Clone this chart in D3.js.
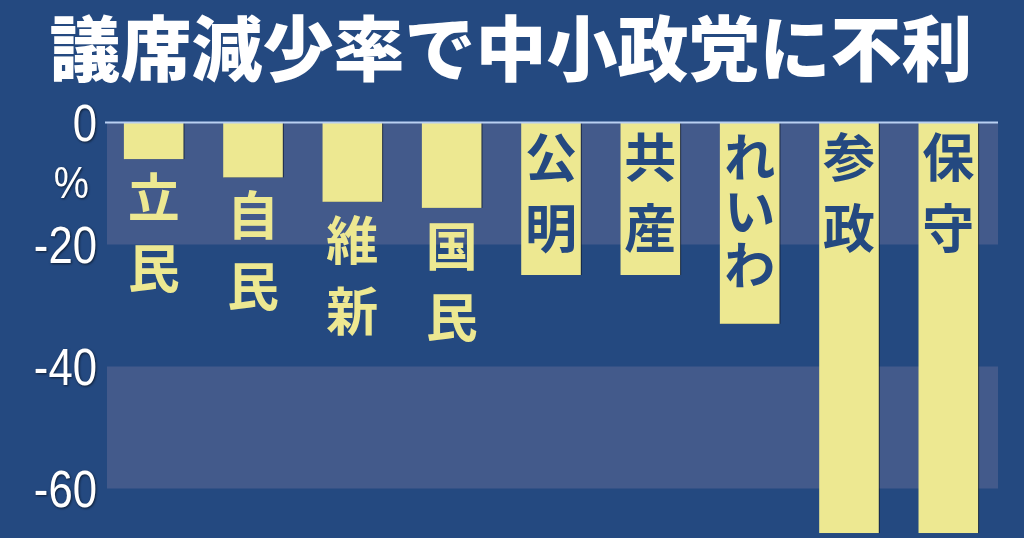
<!DOCTYPE html>
<html><head><meta charset="utf-8">
<script src="https://cdn.jsdelivr.net/npm/d3@7"></script>
<style>
html,body{margin:0;padding:0;background:#244980;overflow:hidden;}
svg{display:block;}
</style></head>
<body>
<svg id="chart" width="1024" height="538"></svg>
<script>
const title = "議席減少率で中小政党に不利";
const parties = ["立民","自民","維新","国民","公明","共産","れいわ","参政","保守"];
const changeRate = [-6, -9, -13, -14, -25, -25, -33, -67.3, -67.3];
const yTicks = [0, -20, -40, -60];
const unitLabel = "%";

const W = 1024, H = 538;
const svg = d3.select("#chart");
const navy = "#244980", band = "#435a8b", yellow = "#ede891";

svg.append("rect").attr("width", W).attr("height", H).attr("fill", navy);

const y = d3.scaleLinear().domain([0, -70]).range([122.5, 122.5 + 70 * 6.1]);
const x = d3.scaleBand().domain(parties).range([107, 995]).paddingInner(0.4).paddingOuter(0.17);

// alternating bands
const bandX0 = 107, bandX1 = 998;
[[0, -20], [-40, -60]].forEach(([a, b]) => {
  svg.append("rect").attr("x", bandX0).attr("width", bandX1 - bandX0)
    .attr("y", y(a)).attr("height", y(b) - y(a)).attr("fill", band);
});

// title
svg.append("text").attr("x", 511).attr("y", 44)
  .attr("text-anchor", "middle").attr("dominant-baseline", "central")
  .attr("font-family", "'Noto Sans CJK JP', sans-serif").attr("font-weight", 900)
  .attr("font-size", 71).attr("fill", "#fff")
  .text(title);

// y axis labels (condensed)
const yAxis = d3.axisLeft(y).tickValues(yTicks).tickSize(0).tickPadding(0)
  .tickFormat(d => d === 0 ? "0" : "-" + Math.abs(d));
const gy = svg.append("g").attr("transform", "translate(97,0) scale(0.84,1)").call(yAxis);
gy.select(".domain").remove();
gy.selectAll("text")
  .attr("font-family", "'Liberation Sans', Arial, sans-serif")
  .attr("font-size", 52).attr("fill", "#fff").attr("dy", "0.35em")
  .style("filter", "drop-shadow(1px 1px 1px rgba(0,0,0,0.6))");
svg.append("text").attr("transform", "translate(89,183) scale(0.9,1)").attr("text-anchor", "end").attr("dy", "0.35em")
  .attr("font-family", "'Liberation Sans', Arial, sans-serif").attr("font-size", 44).attr("fill", "#fff")
  .style("filter", "drop-shadow(1px 1px 1px rgba(0,0,0,0.6))")
  .text(unitLabel);

// bars
const data = parties.map((p, i) => ({ party: p, value: changeRate[i] }));
svg.selectAll("rect.bar").data(data).enter().append("rect").attr("class", "bar")
  .attr("x", d => x(d.party)).attr("width", x.bandwidth())
  .attr("y", y(0)).attr("height", d => y(d.value) - y(0))
  .attr("fill", yellow)
  .style("filter", "drop-shadow(1px 0px 0px rgba(10,20,40,0.7))");

// zero line
svg.append("line").attr("x1", 105).attr("x2", 998).attr("y1", y(0)).attr("y2", y(0))
  .attr("stroke", "#b9d0f2").attr("stroke-width", 2);

// vertical labels
const fs = 52;
svg.selectAll("text.lab").data(data).enter().append("text").attr("class", "lab")
  .attr("x", d => x(d.party) + x.bandwidth() / 2)
  .attr("y", d => (d.value <= -20 ? y(0) + 35 : y(d.value) + 38) - fs / 2)
  .style("writing-mode", "vertical-rl")
  .style("text-orientation", "upright")
  .style("letter-spacing", d => (Array.from(d.party).length === 3 ? 2 : 19) + "px")
  .attr("text-anchor", "start")
  .attr("font-family", "'Noto Sans CJK JP', sans-serif").attr("font-weight", 700)
  .attr("font-size", fs)
  .attr("fill", d => d.value <= -20 ? navy : yellow)
  .text(d => d.party);
</script>
</body></html>
